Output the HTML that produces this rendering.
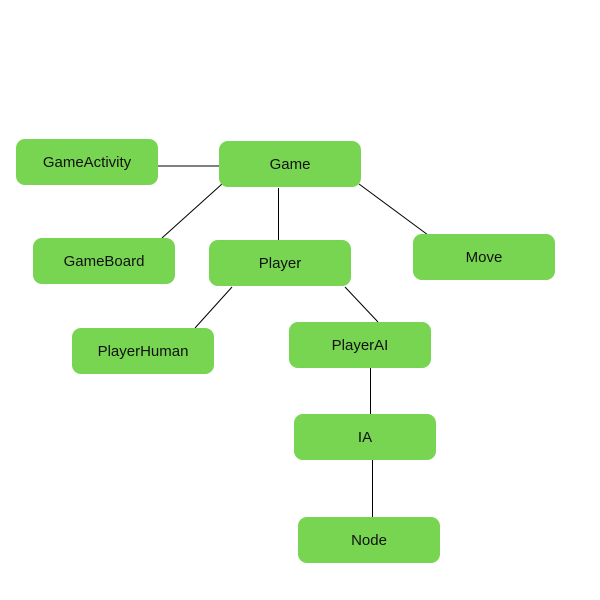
<!DOCTYPE html>
<html><head><style>
body{margin:0;width:600px;height:600px;background:#fff;position:relative;overflow:hidden;font-family:"Liberation Sans",sans-serif}
.b{position:absolute;width:142px;height:46px;background:#77d551;border-radius:9px;display:flex;align-items:center;justify-content:center;font-size:15px;color:#111}
svg{position:absolute;left:0;top:0}
</style></head><body>
<svg width="600" height="600" stroke="#000" stroke-width="1">
<line x1="158" y1="166" x2="219" y2="166"/>
<line x1="222" y1="184" x2="162" y2="238"/>
<line x1="278.5" y1="188" x2="278.5" y2="240"/>
<line x1="359" y1="184" x2="428" y2="235"/>
<line x1="232" y1="287" x2="195" y2="328"/>
<line x1="345" y1="287" x2="378" y2="322"/>
<line x1="370.5" y1="368" x2="370.5" y2="414"/>
<line x1="372.5" y1="460" x2="372.5" y2="517"/>
</svg>
<div class="b" style="left:16px;top:139px">GameActivity</div>
<div class="b" style="left:219px;top:141px">Game</div>
<div class="b" style="left:33px;top:238px">GameBoard</div>
<div class="b" style="left:209px;top:240px">Player</div>
<div class="b" style="left:413px;top:234px">Move</div>
<div class="b" style="left:72px;top:328px">PlayerHuman</div>
<div class="b" style="left:289px;top:322px">PlayerAI</div>
<div class="b" style="left:294px;top:414px">IA</div>
<div class="b" style="left:298px;top:517px">Node</div>
</body></html>
